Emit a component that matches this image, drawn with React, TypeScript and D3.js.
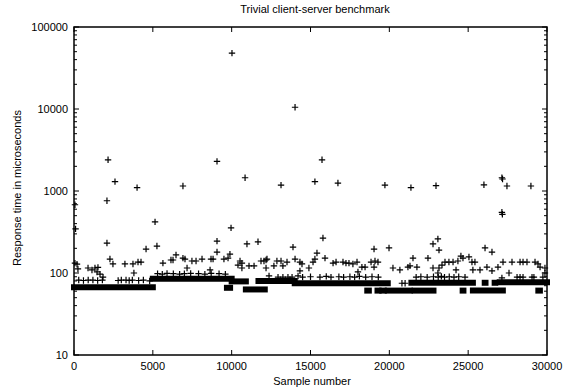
import React from "react";
import * as d3 from "d3";

const W = 564;
const H = 392;
const plot = { left: 74, right: 547, top: 27, bottom: 355 };

const title = "Trivial client-server benchmark";
const xLabel = "Sample number";
const yLabel = "Response time in microseconds";

// dense runs of samples: [first sample, last sample, response time]
const bands: [number, number, number][] = [
  [0, 5000, 67],
  [5000, 10000, 85],
  [9700, 9900, 66],
  [10000, 10900, 79],
  [10900, 12100, 63],
  [11700, 14000, 80],
  [14000, 19900, 75],
  [18600, 18700, 61],
  [19250, 19320, 61],
  [19550, 19650, 61],
  [19900, 21300, 61],
  [21400, 25300, 76],
  [21600, 22800, 61],
  [24650, 24700, 61],
  [25300, 27200, 61],
  [26050, 26100, 76],
  [26680, 26720, 76],
  [27000, 30000, 77],
  [29450, 29550, 61],
];

// the big spikes
const spikes: [number, number][] = [
  [60, 680], [100, 345], [2090, 760], [2160, 2400], [2600, 1300], [4000, 1100],
  [5140, 420], [6910, 1150], [9070, 2300], [9960, 355], [10020, 48000],
  [10850, 1450], [13130, 1180], [14020, 10500], [15280, 1300], [15730, 2400],
  [16740, 1250], [19720, 1180], [21370, 1100], [22960, 1160], [26000, 1190],
  [27140, 1450], [27180, 1400], [27140, 550], [27170, 520], [27460, 1150],
  [28980, 1150],
];

// scattered samples between 90 and 300 us
const scatter: [number, number][] = [
  [60, 132], [250, 112], [190, 128], [890, 115], [1140, 109], [1330, 115],
  [1520, 117], [1460, 103], [1650, 97], [1840, 89], [2090, 232], [2280, 148],
  [2470, 129], [3230, 129], [3740, 129], [4060, 136], [4250, 136], [3800, 100],
  [4570, 196],
  [5260, 213], [5640, 132], [6150, 144], [6280, 144], [6470, 166], [6910, 152],
  [7040, 148], [7170, 115], [7480, 140], [7740, 140], [8120, 148], [8630, 109],
  [8690, 148], [8820, 148], [9070, 245], [9070, 180], [9510, 148], [9770, 152],
  [9890, 170],
  [10400, 125], [10530, 140], [10650, 132], [10650, 115], [10970, 226],
  [11100, 122], [11420, 122], [11670, 240], [11860, 140], [12050, 140],
  [12180, 144], [12240, 148], [12180, 115], [12680, 122], [12870, 140],
  [13130, 140], [13250, 122], [13510, 136], [14020, 148], [14330, 136],
  [14460, 129], [14210, 92], [14330, 106], [14900, 115], [13890, 207],
  [15790, 267], [15410, 175], [15280, 148], [15160, 136], [15920, 152],
  [16430, 132], [16620, 136], [17060, 136], [17250, 132], [17440, 132],
  [17690, 129], [17950, 136], [18260, 118], [18460, 118], [18010, 103],
  [18840, 136], [19090, 140], [19280, 136], [19030, 118], [19030, 196],
  [19980, 202],
  [23080, 260], [22770, 226], [23150, 190], [21500, 152], [22450, 152],
  [20230, 115], [20670, 109], [21180, 118], [21310, 122], [21750, 118],
  [22770, 115], [23150, 115], [23340, 125], [23530, 136], [23780, 136],
  [24040, 136], [24350, 140], [24540, 161], [24670, 152], [25050, 157],
  [23080, 100], [24230, 109],
  [26070, 202], [26510, 180], [25240, 136], [25430, 136], [25300, 109],
  [25750, 109], [26190, 118], [26510, 106], [26890, 118], [27210, 136],
  [27780, 136], [28290, 136], [28480, 136], [28730, 136], [29240, 136],
  [29430, 129], [29560, 118], [29870, 115], [27590, 100], [29870, 100],
];

// the thin row of samples just above each dense run
const nearBand: [number, number][] = [
  [300, 82], [600, 81], [900, 82], [1200, 82], [1500, 81], [1800, 82],
  [2800, 81], [3000, 82], [3300, 82], [3500, 81], [3700, 82], [4100, 81],
  [4400, 82], [4800, 80],
  [5300, 98], [5600, 97], [5900, 99], [6300, 98], [6700, 97], [7000, 98],
  [7400, 99], [7900, 98], [8300, 97], [8700, 99], [9200, 98], [9600, 97],
  [12370, 92], [12940, 89], [13250, 89], [13570, 89], [13830, 89],
  [14500, 89], [15000, 90], [15600, 89], [16000, 91], [16300, 89],
  [16800, 90], [17100, 89], [17500, 90], [17800, 89], [18100, 91],
  [18500, 89], [18900, 90], [19300, 89], [20800, 75], [21000, 75],
  [21700, 89], [22000, 90], [22400, 89], [22800, 90], [23100, 89],
  [23300, 91], [23500, 89], [23800, 90], [24100, 89], [24400, 90],
  [24800, 89], [27140, 87], [28100, 89], [28290, 89], [28480, 89],
  [29050, 89], [29170, 89], [29740, 89],
];

const x = d3.scaleLinear().domain([0, 30000]).range([plot.left, plot.right]);
const y = d3.scaleLog().domain([10, 100000]).range([plot.bottom, plot.top]);

const font = "'Liberation Sans', Arial, sans-serif";

const Plus = ({ s, v }: { s: number; v: number }) => {
  const cx = x(s);
  const cy = y(v);
  const a = 3.2;
  return (
    <path
      d={`M${cx - a},${cy}H${cx + a}M${cx},${cy - a}V${cy + a}`}
      stroke="#000"
      strokeWidth={1.2}
    />
  );
};

export default function App() {
  const xTicks = x.ticks(6);
  const yTicks = y.ticks();
  const isMajor = (t: number) => Math.abs(Math.log10(t) - Math.round(Math.log10(t))) < 1e-6;

  return (
    <svg
      width={W}
      height={H}
      style={{ position: "absolute", left: 0, top: 0, background: "#fff" }}
      fontFamily={font}
    >
      <rect width={W} height={H} fill="#fff" />

      {/* dense runs */}
      {bands.map(([a, b, v], i) => (
        <line
          key={"b" + i}
          x1={x(a)}
          x2={x(b)}
          y1={y(v)}
          y2={y(v)}
          stroke="#000"
          strokeWidth={6}
          strokeLinecap="square"
        />
      ))}
      {nearBand.map(([s, v], i) => (
        <Plus key={"n" + i} s={s} v={v} />
      ))}
      {scatter.map(([s, v], i) => (
        <Plus key={"c" + i} s={s} v={v} />
      ))}
      {spikes.map(([s, v], i) => (
        <Plus key={"s" + i} s={s} v={v} />
      ))}

      {/* frame */}
      <rect
        x={plot.left}
        y={plot.top}
        width={plot.right - plot.left}
        height={plot.bottom - plot.top}
        fill="none"
        stroke="#000"
        strokeWidth={1.5}
      />

      {/* x ticks */}
      {xTicks.map((t) => (
        <g key={"xt" + t}>
          <line x1={x(t)} x2={x(t)} y1={plot.bottom} y2={plot.bottom - 5} stroke="#000" />
          <line x1={x(t)} x2={x(t)} y1={plot.top} y2={plot.top + 5} stroke="#000" />
          <text x={x(t)} y={plot.bottom + 15} fontSize={11} textAnchor="middle">
            {t}
          </text>
        </g>
      ))}

      {/* y ticks */}
      {yTicks.map((t) => {
        const len = isMajor(t) ? 5 : 3;
        return (
          <g key={"yt" + t}>
            <line x1={plot.left} x2={plot.left + len} y1={y(t)} y2={y(t)} stroke="#000" />
            <line x1={plot.right} x2={plot.right - len} y1={y(t)} y2={y(t)} stroke="#000" />
            {isMajor(t) && (
              <text x={plot.left - 6} y={y(t) + 4} fontSize={11} textAnchor="end">
                {d3.format("d")(t)}
              </text>
            )}
          </g>
        );
      })}

      <text x={315} y={13} fontSize={11} textAnchor="middle">
        {title}
      </text>
      <text x={312} y={385} fontSize={11} textAnchor="middle">
        {xLabel}
      </text>
      <text
        transform={`translate(21,188) rotate(-90)`}
        fontSize={11}
        textAnchor="middle"
      >
        {yLabel}
      </text>
    </svg>
  );
}
